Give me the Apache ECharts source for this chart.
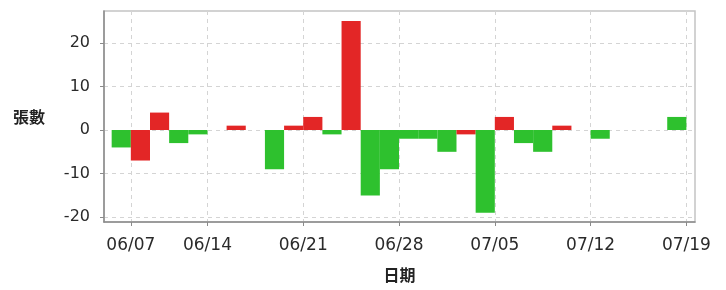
<!DOCTYPE html>
<html>
<head>
<meta charset="utf-8">
<script src="https://cdn.jsdelivr.net/npm/echarts@6/dist/echarts.min.js"></script>
<style>
  html, body { margin: 0; padding: 0; background: #fff; }
  #chart { width: 726px; height: 290px; }
</style>
</head>
<body>
<div id="chart"></div>
<script>
// trading days (each bar spans one day, tick sits on the day's left edge)
var dates = ['06/06','06/07','06/10','06/11','06/13','06/14','06/17','06/18','06/19','06/20',
             '06/21','06/24','06/25','06/26','06/27','06/28','07/01','07/02','07/03','07/04',
             '07/05','07/08','07/09','07/10','07/11','07/12','07/15','07/16','07/17','07/18'];
var lots = [-4, -7, 4, -3, -1, 0, 1, 0, -9, 1,
            3, -1, 25, -15, -9, -2, -2, -5, -1, -19,
            3, -3, -5, 1, 0, -2, 0, 0, 0, 3];
// r = red bar, g = green bar
var dirs = ['g','r','r','g','g','g','r','g','g','r',
            'r','g','r','g','g','g','g','g','r','g',
            'r','g','g','r','g','g','g','g','g','g'];
var tickLabels = ['06/07','06/14','06/21','06/28','07/05','07/12','07/19'];
var yTicks = [-20, -10, 0, 10, 20];

var RED = '#e32626', GREEN = '#2ec12e';

function tickPos(label){
    var i = dates.indexOf(label);
    return i < 0 ? dates.length : i;
}
var xTickPos = tickLabels.map(tickPos);

var barData = lots.map(function(v, i){
    return {
        value: [i + 0.5, v],
        itemStyle: { color: dirs[i] === 'r' ? RED : GREEN }
    };
});

var gridLine = { show: true, lineStyle: { color: '#d4d4d4', type: [4, 4], width: 1 } };
var font = 'DejaVu Sans, sans-serif';
var nameStyle = { fontFamily: 'Noto Sans CJK TC', fontSize: 16, fontWeight: 'bold', color: '#222' };

var chart = echarts.init(document.getElementById('chart'));
chart.setOption({
    animation: false,
    backgroundColor: '#fff',
    grid: {
        left: 104, right: 31, top: 11, bottom: 68,
        outerBoundsMode: 'none',
        containLabel: false,
        show: true, borderColor: '#c4c4c4', borderWidth: 1.5
    },
    xAxis: {
        type: 'value',
        min: -0.4,
        max: dates.length + 0.45,
        name: '日期',
        nameLocation: 'middle',
        nameGap: 45,
        nameTextStyle: nameStyle,
        axisLine: { show: true, onZero: false, lineStyle: { color: '#8a8a8a', width: 1.5 } },
        axisTick: { show: true, length: 4, customValues: xTickPos, lineStyle: { color: '#8a8a8a' } },
        axisLabel: {
            customValues: xTickPos,
            margin: 15,
            fontFamily: font, fontSize: 17, color: '#2a2a2a',
            formatter: function(v){
                var k = xTickPos.indexOf(v);
                return k < 0 ? '' : tickLabels[k];
            }
        },
        splitLine: gridLine
    },
    yAxis: {
        type: 'value',
        min: -21.1,
        max: 27.3,
        name: '張數',
        nameLocation: 'middle',
        nameRotate: 0,
        nameGap: 59,
        nameTextStyle: nameStyle,
        axisLine: { show: true, onZero: false, lineStyle: { color: '#8a8a8a', width: 1.5 } },
        axisTick: { show: true, length: 4, customValues: yTicks, lineStyle: { color: '#8a8a8a' } },
        axisLabel: { customValues: yTicks, margin: 14, fontFamily: font, fontSize: 16, color: '#2a2a2a' },
        splitLine: gridLine
    },
    series: [{
        type: 'bar',
        barWidth: '100%',
        data: barData
    }]
});
</script>
</body>
</html>
